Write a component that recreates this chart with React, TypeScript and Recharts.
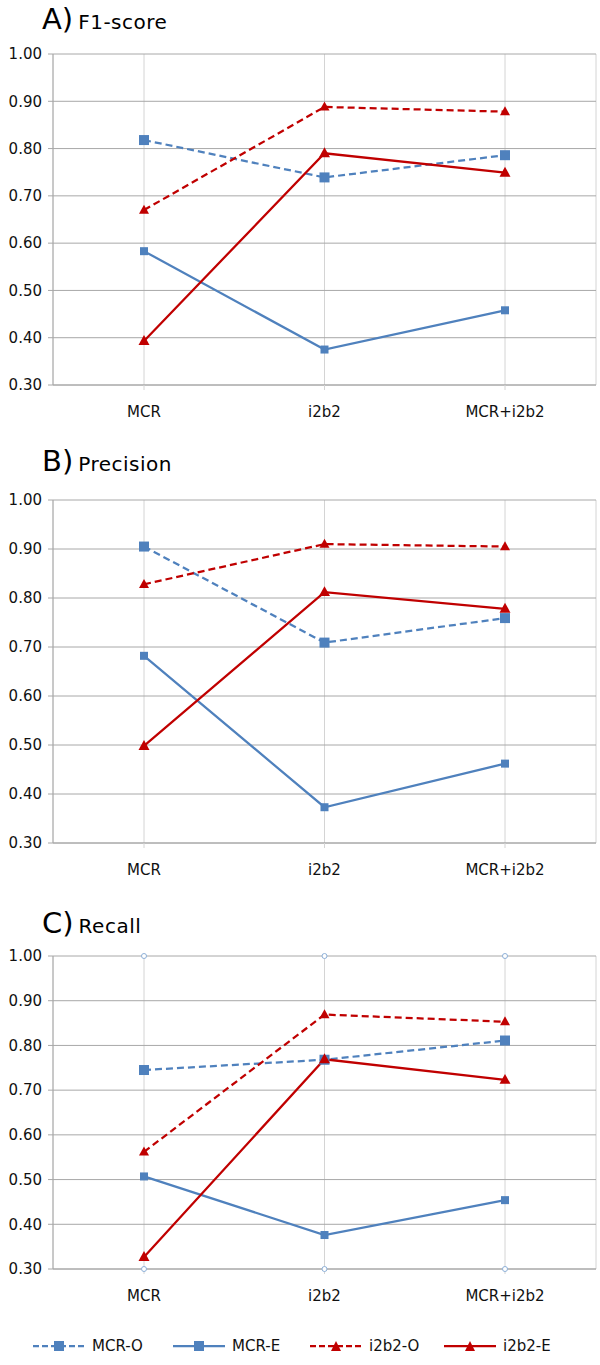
import React from 'react';
import { LineChart, Line, XAxis, YAxis, CartesianGrid } from 'recharts';

const categories = ['MCR', 'i2b2', 'MCR+i2b2'];
const yTicks = [0.3, 0.4, 0.5, 0.6, 0.7, 0.8, 0.9, 1.0];
const seriesNames = ['MCR-O', 'MCR-E', 'i2b2-O', 'i2b2-E'];

// A) F1-score
const f1McrO = [0.818, 0.739, 0.786];
const f1McrE = [0.583, 0.375, 0.458];
const f1I2b2O = [0.67, 0.888, 0.878];
const f1I2b2E = [0.393, 0.79, 0.749];

// B) Precision
const precMcrO = [0.905, 0.709, 0.759];
const precMcrE = [0.682, 0.373, 0.462];
const precI2b2O = [0.828, 0.91, 0.905];
const precI2b2E = [0.498, 0.812, 0.778];

// C) Recall
const recMcrO = [0.745, 0.768, 0.811];
const recMcrE = [0.507, 0.376, 0.454];
const recI2b2O = [0.562, 0.869, 0.853];
const recI2b2E = [0.327, 0.769, 0.723];
const recTop = [1.0, 1.0, 1.0];
const recBottom = [0.3, 0.3, 0.3];

const BLUE = '#4f81bd';
const RED = '#c00000';
const FONT = '"DejaVu Sans", Verdana, sans-serif';

const buildRows = (o: number[], e: number[], io: number[], ie: number[], top?: number[], bottom?: number[]) =>
    categories.map((c, i) => ({
        name: c,
        mcrO: o[i],
        mcrE: e[i],
        i2b2O: io[i],
        i2b2E: ie[i],
        top: top ? top[i] : undefined,
        bottom: bottom ? bottom[i] : undefined,
    }));

const squareDot = (size: number) => (p: any) => {
    if (p.cx == null || p.cy == null) return <g key={p.index} />;
    return <rect key={p.index} x={p.cx - size / 2} y={p.cy - size / 2} width={size} height={size} fill={BLUE} />;
};

const triangleDot = (size: number) => (p: any) => {
    if (p.cx == null || p.cy == null) return <g key={p.index} />;
    const h = size * 0.9;
    const pts = `${p.cx},${p.cy - h * 0.6} ${p.cx - size / 2},${p.cy + h * 0.4} ${p.cx + size / 2},${p.cy + h * 0.4}`;
    return <polygon key={p.index} points={pts} fill={RED} />;
};

const panels = [
    { letter: 'A)', title: 'F1-score', rows: buildRows(f1McrO, f1McrE, f1I2b2O, f1I2b2E), top: 0, plotTop: 54, plotBottom: 385, titleY: 2 },
    { letter: 'B)', title: 'Precision', rows: buildRows(precMcrO, precMcrE, precI2b2O, precI2b2E), top: 440, plotTop: 60, plotBottom: 403, titleY: 444 },
    {
        letter: 'C)', title: 'Recall',
        rows: buildRows(recMcrO, recMcrE, recI2b2O, recI2b2E, recTop, recBottom),
        top: 880, plotTop: 76, plotBottom: 389, titleY: 906, markers: true,
    },
];

const CHART_H = 440;
const X_AXIS_H = 30;

function Panel({ panel }: { panel: any }) {
    return (
        <>
            <div style={{ position: 'absolute', left: 42, top: panel.titleY, fontFamily: FONT, whiteSpace: 'nowrap', color: '#000' }}>
                <span style={{ fontSize: 29 }}>{panel.letter}</span>
                <span style={{ fontSize: 20, marginLeft: 5, letterSpacing: 0.5 }}>{panel.title}</span>
            </div>
            <div style={{ position: 'absolute', left: 0, top: panel.top }}>
                <LineChart
                    width={600}
                    height={CHART_H}
                    data={panel.rows}
                    margin={{ top: panel.plotTop, right: 4, left: 0, bottom: CHART_H - panel.plotBottom - X_AXIS_H }}
                >
                    <CartesianGrid horizontal={false} stroke="#d4d4d4" />
                    <CartesianGrid vertical={false} stroke="#a8a8a8" />
                    <XAxis
                        dataKey="name"
                        height={X_AXIS_H}
                        padding={{ left: 91, right: 91 }}
                        axisLine={{ stroke: '#a8a8a8' }}
                        tickLine={{ stroke: '#d4d4d4' }}
                        tickSize={5}
                        tickMargin={16}
                        tick={{ fill: '#111', fontSize: 15, fontFamily: FONT }}
                    />
                    <YAxis
                        width={53}
                        domain={[0.3, 1]}
                        ticks={yTicks}
                        tickFormatter={(v: number) => v.toFixed(2)}
                        axisLine={{ stroke: '#a8a8a8' }}
                        tickLine={{ stroke: '#a8a8a8' }}
                        tickSize={5}
                        tickMargin={6}
                        tick={{ fill: '#111', fontSize: 15, fontFamily: FONT }}
                    />
                    {panel.markers && (
                        <Line dataKey="top" stroke="none" isAnimationActive={false}
                            dot={{ r: 2.5, fill: '#fff', stroke: '#8db0d8', strokeWidth: 1 }} />
                    )}
                    {panel.markers && (
                        <Line dataKey="bottom" stroke="none" isAnimationActive={false}
                            dot={{ r: 2.5, fill: '#fff', stroke: '#8db0d8', strokeWidth: 1 }} />
                    )}
                    <Line dataKey="mcrO" name="MCR-O" stroke={BLUE} strokeWidth={2.25} strokeDasharray="7 4"
                        dot={squareDot(10)} isAnimationActive={false} />
                    <Line dataKey="mcrE" name="MCR-E" stroke={BLUE} strokeWidth={2.25}
                        dot={squareDot(8)} isAnimationActive={false} />
                    <Line dataKey="i2b2O" name="i2b2-O" stroke={RED} strokeWidth={2.25} strokeDasharray="7 4"
                        dot={triangleDot(10)} isAnimationActive={false} />
                    <Line dataKey="i2b2E" name="i2b2-E" stroke={RED} strokeWidth={2.25}
                        dot={triangleDot(11)} isAnimationActive={false} />
                </LineChart>
            </div>
        </>
    );
}

function LegendIcon({ color, dashed, marker }: { color: string; dashed: boolean; marker: 'square' | 'triangle' }) {
    return (
        <svg width={52} height={14} style={{ display: 'block' }}>
            <line x1={0} y1={7} x2={52} y2={7} stroke={color} strokeWidth={2.25} strokeDasharray={dashed ? '6 3' : undefined} />
            {marker === 'square'
                ? <rect x={21} y={2} width={10} height={10} fill={color} />
                : <polygon points="26,2 21,12 31,12" fill={color} />}
        </svg>
    );
}

export default function App() {
    const legendItems = [
        { name: seriesNames[0], color: BLUE, dashed: true, marker: 'square' as const, left: 33 },
        { name: seriesNames[1], color: BLUE, dashed: false, marker: 'square' as const, left: 173 },
        { name: seriesNames[2], color: RED, dashed: true, marker: 'triangle' as const, left: 310 },
        { name: seriesNames[3], color: RED, dashed: false, marker: 'triangle' as const, left: 444 },
    ];
    return (
        <div style={{ position: 'absolute', left: 0, top: 0, width: 600, height: 1365, background: '#fff', overflow: 'hidden' }}>
            {panels.map(p => <Panel key={p.letter} panel={p} />)}
            {legendItems.map(item => (
                <div key={item.name} style={{ position: 'absolute', left: item.left, top: 1337, display: 'flex', alignItems: 'center', gap: 7, fontFamily: FONT, fontSize: 15, color: '#111' }}>
                    <LegendIcon color={item.color} dashed={item.dashed} marker={item.marker} />
                    <span>{item.name}</span>
                </div>
            ))}
        </div>
    );
}
